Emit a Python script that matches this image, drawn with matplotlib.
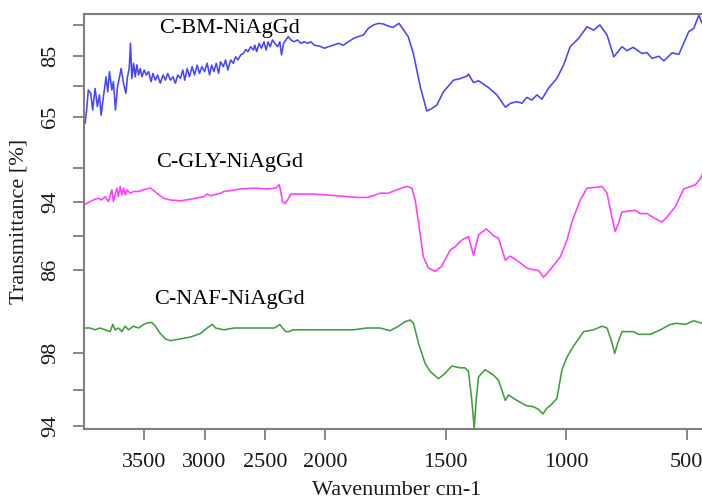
import numpy as np
import matplotlib
matplotlib.use("Agg")
import matplotlib.pyplot as plt
from matplotlib.ticker import FixedLocator, FixedFormatter, NullLocator

plt.rcParams['font.family'] = ['Liberation Serif', 'DejaVu Serif']

# ---------------- data ----------------
bm_wn = [3991, 3978, 3964, 3944, 3928, 3908, 3889, 3872, 3858, 3839, 3817, 3803, 3789, 3769, 3756,
         3739, 3722, 3705, 3692, 3672, 3653, 3639, 3625, 3614, 3603, 3589, 3575, 3561, 3547, 3533,
         3519, 3500, 3483, 3464, 3444, 3428, 3408, 3389, 3367, 3344, 3325, 3305, 3283, 3261, 3242,
         3222, 3200, 3180, 3164, 3144, 3125, 3103, 3083, 3061, 3042, 3022, 3000, 2978, 2958, 2941,
         2922, 2903, 2883, 2867, 2844, 2825, 2806, 2783, 2761, 2742, 2722, 2700, 2678, 2658, 2639,
         2617, 2594, 2583, 2567, 2547, 2528, 2506, 2489, 2472, 2455, 2436, 2416, 2394, 2375, 2361,
         2344, 2325, 2305, 2283, 2255, 2228, 2200, 2172, 2144, 2117, 2089, 2047, 2005, 1986, 1965,
         1945, 1924, 1903, 1882, 1862, 1841, 1820, 1799, 1778, 1758, 1737, 1718, 1693, 1655, 1634,
         1605, 1578, 1560, 1536, 1509, 1467, 1440, 1412, 1405, 1384, 1363, 1320, 1287, 1252, 1230,
         1204, 1183, 1163, 1142, 1121, 1100, 1073, 1038, 1010, 983, 948, 913, 885, 860, 830,
         802, 768, 747, 722, 685, 665, 643, 615, 594, 560, 532, 491, 470, 449, 436]
bm_t = [63.0, 67.3, 73.8, 72.7, 67.3, 74.3, 68.4, 72.2, 65.6, 71.6, 78.1, 73.2, 79.8, 73.8, 76.5,
        67.3, 74.9, 78.1, 80.8, 76.0, 72.7, 78.1, 80.8, 89.0, 77.6, 82.5, 78.1, 82.0, 78.7, 80.8,
        78.1, 80.3, 78.7, 79.8, 76.5, 79.2, 77.0, 78.7, 76.0, 78.7, 77.0, 79.2, 77.0, 78.1, 76.0,
        78.7, 77.6, 80.3, 77.0, 80.8, 78.1, 81.4, 78.7, 81.9, 79.2, 81.4, 79.8, 82.5, 78.7, 81.9,
        79.8, 82.5, 79.2, 83.0, 81.4, 83.6, 80.3, 83.6, 82.5, 84.6, 83.6, 85.2, 85.7, 87.0, 86.3,
        87.9, 86.8, 88.4, 86.3, 89.0, 87.4, 89.5, 86.8, 89.5, 87.9, 90.1, 89.0, 87.9, 89.5, 85.2,
        89.0, 90.1, 91.2, 90.1, 89.5, 90.1, 89.0, 89.5, 89.0, 89.5, 88.4, 88.1, 87.4, 87.9, 88.4,
        89.0, 88.4, 89.5, 90.6, 91.2, 91.7, 93.9, 95.0, 95.5, 95.3, 94.6, 94.2, 95.5, 91.2, 85.8,
        74.9, 67.0, 67.6, 68.9, 73.2, 77.0, 77.5, 78.3, 79.0, 76.2, 76.8, 74.5, 72.2, 68.2, 69.5,
        70.0, 69.5, 71.4, 70.5, 72.2, 70.8, 74.4, 77.6, 82.0, 87.9, 90.6, 94.4, 93.3, 95.0, 91.7,
        84.6, 87.9, 86.6, 87.7, 85.7, 86.0, 84.1, 84.8, 83.3, 85.9, 85.4, 92.8, 93.9, 98.2, 95.5]

gly_wn = [3991, 3950, 3908, 3880, 3853, 3825, 3797, 3769, 3756, 3728, 3714, 3700, 3686, 3672, 3658,
          3644, 3617, 3589, 3547, 3505, 3450, 3394, 3339, 3283, 3200, 3116, 3005, 2978, 2950, 2867,
          2839, 2783, 2700, 2589, 2478, 2408, 2380, 2367, 2353, 2333, 2311, 2283, 2228, 2089, 1999,
          1952, 1910, 1868, 1827, 1799, 1772, 1737, 1702, 1682, 1661, 1640, 1626, 1612, 1592, 1571,
          1543, 1516, 1481, 1460, 1432, 1405, 1384, 1363, 1331, 1301, 1280, 1252, 1232, 1204, 1163,
          1135, 1114, 1093, 1066, 1024, 996, 976, 941, 913, 872, 851, 830, 810, 796, 782,
          768, 713, 692, 664, 636, 602, 581, 547, 512, 463, 443, 434]
gly_t = [93.7, 94.0, 94.3, 94.4, 94.2, 94.6, 94.0, 95.4, 94.0, 95.6, 94.6, 95.8, 94.8, 95.6, 94.8,
         95.4, 95.0, 95.2, 95.2, 95.4, 95.6, 95.0, 94.4, 94.2, 94.1, 94.3, 94.6, 94.9, 94.7, 95.0,
         95.2, 95.3, 95.5, 95.6, 95.5, 95.6, 96.0, 95.2, 94.0, 93.8, 94.2, 94.9, 94.9, 94.9, 94.8,
         94.7, 94.6, 94.5, 94.5, 94.7, 95.0, 95.0, 95.4, 95.6, 95.8, 95.6, 94.2, 91.5, 87.5, 86.2,
         85.8, 86.4, 88.3, 88.7, 89.5, 89.9, 87.7, 90.1, 90.8, 90.0, 89.7, 87.1, 87.6, 87.1, 86.2,
         86.0, 85.9, 85.1, 86.0, 87.5, 89.5, 91.6, 94.2, 95.6, 95.7, 95.8, 95.0, 92.2, 90.5, 91.5,
         92.8, 93.0, 92.6, 92.6, 92.1, 91.6, 92.2, 93.4, 95.5, 96.0, 96.7, 97.3]

naf_wn = [3991, 3950, 3908, 3867, 3825, 3783, 3761, 3742, 3714, 3686, 3658, 3631, 3589, 3547, 3505,
          3464, 3436, 3408, 3367, 3325, 3283, 3200, 3117, 3033, 2978, 2936, 2908, 2839, 2755, 2589,
          2422, 2394, 2375, 2353, 2325, 2297, 2269, 2089, 1999, 1924, 1882, 1827, 1772, 1730, 1695,
          1668, 1647, 1633, 1612, 1585, 1564, 1529, 1502, 1474, 1439, 1419, 1405, 1391, 1381, 1373,
          1363, 1336, 1301, 1280, 1252, 1239, 1204, 1163, 1135, 1114, 1096, 1080, 1059, 1038, 1017,
          996, 969, 927, 886, 851, 830, 812, 798, 786, 768, 720, 699, 650, 609, 567,
          540, 505, 470, 436]
naf_t = [99.4, 99.4, 99.3, 99.4, 99.3, 99.2, 99.6, 99.3, 99.4, 99.2, 99.5, 99.3, 99.5, 99.4, 99.6,
         99.7, 99.7, 99.5, 99.1, 98.8, 98.7, 98.8, 98.9, 99.1, 99.4, 99.6, 99.4, 99.3, 99.4, 99.4,
         99.4, 99.5, 99.6, 99.4, 99.2, 99.2, 99.3, 99.3, 99.3, 99.3, 99.3, 99.4, 99.4, 99.25, 99.5,
         99.75, 99.84, 99.66, 98.55, 97.45, 97.0, 96.6, 96.9, 97.3, 97.2, 97.2, 97.0, 95.4, 93.85, 95.4,
         96.7, 97.1, 96.8, 96.5, 95.4, 95.7, 95.4, 95.1, 95.05, 94.9, 94.65, 94.96, 95.2, 95.5, 97.1,
         97.8, 98.4, 99.2, 99.3, 99.5, 99.4, 98.7, 98.0, 98.55, 99.2, 99.2, 99.05, 99.05, 99.3, 99.6,
         99.66, 99.6, 99.8, 99.66]

names = ['C-BM-NiAgGd', 'C-GLY-NiAgGd', 'C-NAF-NiAgGd']
colors = ['#4646ff', '#ff3cff', '#3f9f3f']
x_ticks = [3500, 3000, 2500, 2000, 1500, 1000, 500]
bm_ticks, bm_labels = [65, 75, 85, 95], ['65', '', '85', '']
gly_ticks, gly_labels = [86, 90, 94, 98], ['86', '', '94', '']
naf_ticks, naf_labels = [94, 96, 98], ['94', '', '98']

# ---------------- figure ----------------
W, H = 702, 501
fig = plt.figure(figsize=(W / 100, H / 100), dpi=100)
rect = [84 / W, 1 - 429 / H, 1 - 84 / W, (429 - 14) / H]


def fwd(w):
    w = np.asarray(w, dtype=float)
    return np.where(w <= 2000, 2 * w, w + 2000)


def inv(u):
    u = np.asarray(u, dtype=float)
    return np.where(u <= 4000, u / 2, u - 2000)


spine_col = '#7f7f7f'
series = [(bm_wn, bm_t, bm_ticks, bm_labels, (-36.6, 98.55), 0.966),
          (gly_wn, gly_t, gly_ticks, gly_labels, (67.26, 116.08), 0.641),
          (naf_wn, naf_t, naf_ticks, naf_labels, (93.82, 116.75), 0.311)]

axes = []
for i, (wn, tr, ticks, labels, ylim, ty) in enumerate(series):
    ax = fig.add_axes(rect, sharex=axes[0]) if axes else fig.add_axes(rect)
    ax.set_xscale('function', functions=(fwd, inv))
    ax.plot(wn, tr, color=colors[i], lw=1.15)
    ax.set_ylim(*ylim)
    ax.set_yticks(ticks)
    ax.set_yticklabels(labels)
    ax.tick_params(axis='y', length=8, width=1.3, color=spine_col, labelsize=16,
                   labelrotation=90, pad=9, labelcolor='#1a1a1a')
    for lab in ax.get_yticklabels():
        lab.set_va('center')
    ax.text(0.236, ty, names[i], transform=ax.transAxes, ha='center', va='center',
            fontsize=16, color='black')
    if not axes:
        for s in ['left', 'top', 'bottom']:
            ax.spines[s].set_color(spine_col)
            ax.spines[s].set_linewidth(1.5)
        ax.spines['right'].set_visible(False)
    else:
        ax.patch.set_visible(False)
        for s in ax.spines.values():
            s.set_visible(False)
        ax.tick_params(axis='x', bottom=False, labelbottom=False)
    axes.append(ax)

base = axes[0]
base.set_xlim(4000, 436)
base.xaxis.set_major_locator(FixedLocator(x_ticks))
base.xaxis.set_major_formatter(FixedFormatter([str(t) for t in x_ticks]))
base.xaxis.set_minor_locator(NullLocator())
base.tick_params(axis='x', length=8, width=1.3, color=spine_col, labelsize=16,
                 pad=9, labelcolor='#1a1a1a')

fig.text(19 / W, 1 - 221.5 / H, 'Transmittance [%]', rotation=90, ha='center', va='center',
         fontsize=16, color='#1a1a1a')
fig.text(396.7 / W, 1 - 495 / H, 'Wavenumber cm-1', ha='center', va='baseline',
         fontsize=16, color='#1a1a1a')

fig.savefig('out.png', dpi=100)
